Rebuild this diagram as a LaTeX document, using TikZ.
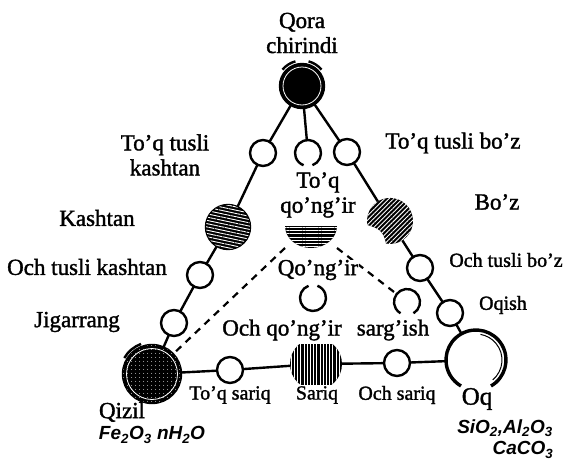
\documentclass[tikz,border=0pt]{standalone}
\usepackage{fontspec}
\setmainfont{Liberation Serif}[FakeBold=1.5]
\newfontfamily\formulafont{Liberation Sans}
\usepackage{tikz}
\usetikzlibrary{patterns,patterns.meta}
\newcommand{\defaultsoilsize}{26pt}
\newcommand{\soilsize}{\defaultsoilsize}
\tikzstyle{soil}=[draw, circle, inner sep=0, outer sep=0, line width=2.4pt, fill=white, minimum size=\soilsize]
\tikzstyle{dsoil}=[soil, fill=black]
\tikzstyle{hollow}=[circle, inner sep=0, outer sep=0, minimum size=\soilsize]
\tikzstyle{link}=[line width=2.4pt]
\tikzstyle{trend}=[line width=2.2pt, dash pattern=on 7pt off 6pt]
\tikzstyle{bigname}=[font=\fontsize{23}{25}\selectfont, align=center]
\tikzstyle{smallname}=[font=\fontsize{20}{22}\selectfont]
\tikzstyle{formula}=[font=\formulafont\bfseries\itshape\fontsize{19}{21}\selectfont]
\tikzset{hatch/.style={postaction={pattern={Lines[angle=#1, distance=3.2pt, line width=0.9pt]}, pattern color=white}},
         dots/.style={postaction={pattern={Dots[distance=4pt, radius=0.55pt]}, pattern color=white}}}
\tikzstyle{soilmap}=[x=1pt, y=-1pt,
                     % Labels sit exactly at their coordinates.
                     every node/.style={inner sep=0, outer sep=0}]

\begin{document}
\begin{tikzpicture}[soilmap]
  \useasboundingbox (0,0) rectangle (566,461);
  % Corner soils
  \node[dsoil, minimum size=44pt] (qora) at (302,86) {};
  \draw[white, line width=0.8pt] (qora.center) circle[radius=19pt];
  \draw[link] (qora.center) ++(40:25.5pt) arc[start angle=40, end angle=75, radius=25.5pt];
  \draw[link] (qora.center) ++(105:25.5pt) arc[start angle=105, end angle=140, radius=25.5pt];
  \node[dsoil, minimum size=58pt, dots] (qizil) at (152,374) {};
  \draw[white, line width=0.8pt] (qizil.center) circle[radius=25.5pt];
  \draw[link] (qizil.center) ++(110:32pt) arc[start angle=110, end angle=150, radius=32pt];
  \node[hollow, minimum size=60pt] (oq) at (476,360) {};
  \draw[line width=3.4pt] (oq.center) ++(-60:30pt) arc[start angle=-60, end angle=240, radius=30pt];
  \draw[line width=1pt] (oq.center) ++(-50:26pt) arc[start angle=-50, end angle=80, radius=26pt];
  % Shaded soils
  \node[dsoil, minimum size=44pt, hatch=-12] (kashtan) at (228,227) {};
  \node[hollow, minimum size=46pt] (boz) at (390,221) {};
  \fill[hatch=45] (367.3,225) .. controls +(-15:12pt) and +(100:12pt) .. (386,243.6)
    arc[start angle=260, end angle=550, radius=23pt] -- cycle;
  \node[minimum width=52pt, minimum height=22pt, anchor=north] (tqqir) at (311,226) {};
  \fill[hatch=0] (tqqir.north west) arc[start angle=180, end angle=360, x radius=26pt, y radius=22pt] -- cycle;
  \node[hollow, minimum size=52pt] (sariq) at (316,364) {};
  \begin{scope}
    \clip (290,344) rectangle (342,384);
    \fill[hatch=90] (sariq.center) circle[radius=26pt];
  \end{scope}
  % Small soils
  \node[soil] (tqk) at (263,153) {};
  \node[soil] (tqb) at (347,152) {};
  \node[soil] (otk) at (200,275) {};
  \node[soil] (jig) at (174,323) {};
  \node[soil] (otb) at (420,268) {};
  \node[soil] (oqish) at (450,313) {};
  \node[soil] (tqs) at (230,370) {};
  \node[soil] (ochs) at (397,363) {};
  \node[hollow] (tqmid) at (308,153) {};
  \draw[link] (tqmid.center) ++(-70:13pt) arc[start angle=-70, end angle=250, radius=13pt];
  \node[hollow] (qongir) at (313,298) {};
  \draw[link] (qongir.center) ++(110:13pt) arc[start angle=110, end angle=430, radius=13pt];
  \node[hollow] (sargish) at (407,302) {};
  \draw[link] (sargish.center) ++(-60:13pt) arc[start angle=-60, end angle=240, radius=13pt];
  % Connectors
  \draw[link] (qora) -- (tqk) -- (kashtan) -- (otk) -- (jig) -- (qizil);
  \draw[link] (qora) -- (tqmid);
  \draw[link] (qora) -- (tqb) -- (boz) -- (otb) -- (oqish) -- (oq);
  \draw[link] (qizil) -- (tqs) -- (sariq) -- (ochs) -- (oq);
  \draw[trend] (tqqir.south west) -- (qizil);
  \draw[trend] (tqqir.south east) -- (sargish);
  % Names
  \node[bigname] (qoraname) at (302,33) {Qora\\chirindi};
  \node[bigname] (tqkname) at (165,155) {To’q tusli\\kashtan};
  \node[bigname] (kashtanname) at (97,218) {Kashtan};
  \node[bigname] (otkname) at (87,267) {Och tusli kashtan};
  \node[bigname] (jigname) at (77,322) {Jigarrang};
  \node[bigname] (tqbname) at (453,143) {To’q tusli bo’z};
  \node[bigname] (bozname) at (497,202) {Bo’z};
  \node[smallname] (otbname) at (506,260) {Och tusli bo’z};
  \node[smallname] (oqishname) at (503,305) {Oqish};
  \node[bigname] (tqqirname) at (318,195) {To’q\\qo’ng’ir};
  \node[bigname, fill=white, inner xsep=1pt] (qongirname) at (318,270) {Qo’ng’ir};
  \node[bigname] (oqqname) at (282,330) {Och qo’ng’ir};
  \node[bigname] (sargishname) at (393,330) {sarg’ish};
  \node[smallname] (tqsname) at (230,395) {To’q sariq};
  \node[smallname] (sariqname) at (317,395) {Sariq};
  \node[smallname] (ochsname) at (397,395) {Och sariq};
  \node[bigname, font=\fontsize{25}{27}\selectfont] (oqname) at (477,399) {Oq};
  \node[bigname] (qizilname) at (122,412) {Qizil};
  \node[formula] (qizilformula) at (152,435) {Fe\textsubscript{2}O\textsubscript{3} nH\textsubscript{2}O};
  \node[formula] (oqformula) at (505,428) {SiO\textsubscript{2},Al\textsubscript{2}O\textsubscript{3}};
  \node[formula] (caformula) at (523,450) {CaCO\textsubscript{3}};
\end{tikzpicture}
\end{document}
